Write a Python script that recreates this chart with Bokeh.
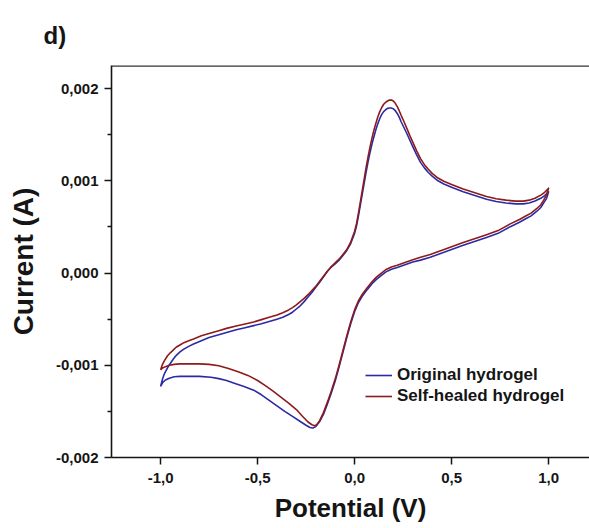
from bokeh.plotting import figure
from bokeh.models import (Range1d, FixedTicker, Legend, LegendItem, Span)
from bokeh.embed import file_html
from bokeh.resources import INLINE

# Cyclic voltammograms as (potential V, current mA) points,
# forward sweep -1.0 -> 1.0 V, then the reverse sweep back to -1.0 V.
original_cv = [
    (-1.000, -1.23), (-0.990, -1.15), (-0.980, -1.09), (-0.965, -1.03),
    (-0.950, -0.98), (-0.935, -0.935), (-0.920, -0.895), (-0.900, -0.855),
    (-0.880, -0.825), (-0.855, -0.795), (-0.830, -0.77), (-0.790, -0.735),
    (-0.750, -0.70), (-0.700, -0.67), (-0.660, -0.645), (-0.610, -0.615),
    (-0.570, -0.595), (-0.520, -0.57), (-0.480, -0.55), (-0.440, -0.525),
    (-0.400, -0.50), (-0.370, -0.48), (-0.340, -0.45), (-0.320, -0.425),
    (-0.300, -0.39), (-0.280, -0.355), (-0.260, -0.31), (-0.240, -0.26),
    (-0.220, -0.21), (-0.200, -0.155), (-0.180, -0.10), (-0.160, -0.04),
    (-0.140, 0.02), (-0.120, 0.065), (-0.100, 0.10), (-0.080, 0.14),
    (-0.060, 0.19), (-0.040, 0.245), (-0.020, 0.32), (0.000, 0.43),
    (0.010, 0.51), (0.020, 0.62), (0.030, 0.74), (0.040, 0.86),
    (0.050, 0.98), (0.060, 1.10), (0.070, 1.21), (0.080, 1.31),
    (0.090, 1.40), (0.100, 1.48), (0.110, 1.555), (0.120, 1.62),
    (0.130, 1.675), (0.140, 1.72), (0.150, 1.75), (0.160, 1.77),
    (0.170, 1.785), (0.180, 1.79), (0.190, 1.79), (0.200, 1.78),
    (0.210, 1.76), (0.220, 1.73), (0.230, 1.69), (0.240, 1.64),
    (0.255, 1.575), (0.270, 1.51), (0.285, 1.44), (0.300, 1.37),
    (0.320, 1.28), (0.340, 1.20), (0.360, 1.14), (0.380, 1.09),
    (0.400, 1.05), (0.430, 1.00), (0.460, 0.965), (0.500, 0.93),
    (0.560, 0.88), (0.620, 0.84), (0.680, 0.80), (0.730, 0.775),
    (0.780, 0.76), (0.830, 0.75), (0.870, 0.75), (0.900, 0.76),
    (0.930, 0.78), (0.960, 0.81), (0.980, 0.84), (1.000, 0.88),
    (0.990, 0.81), (0.975, 0.76), (0.960, 0.71), (0.940, 0.67),
    (0.910, 0.62), (0.880, 0.585), (0.850, 0.55), (0.800, 0.50),
    (0.740, 0.43), (0.680, 0.385), (0.630, 0.35), (0.560, 0.30),
    (0.500, 0.255), (0.440, 0.21), (0.390, 0.17), (0.340, 0.14),
    (0.300, 0.12), (0.260, 0.09), (0.220, 0.06), (0.190, 0.04),
    (0.160, 0.01), (0.130, -0.04), (0.110, -0.075), (0.090, -0.115),
    (0.065, -0.18), (0.040, -0.25), (0.020, -0.32), (0.000, -0.42),
    (-0.020, -0.55), (-0.040, -0.70), (-0.060, -0.86), (-0.080, -1.02),
    (-0.100, -1.17), (-0.120, -1.30), (-0.140, -1.42), (-0.160, -1.53),
    (-0.180, -1.61), (-0.200, -1.665), (-0.215, -1.68), (-0.230, -1.675),
    (-0.250, -1.65), (-0.280, -1.61), (-0.320, -1.555), (-0.360, -1.50),
    (-0.400, -1.44), (-0.440, -1.38), (-0.480, -1.32), (-0.520, -1.27),
    (-0.570, -1.23), (-0.620, -1.195), (-0.660, -1.165), (-0.700, -1.145),
    (-0.740, -1.13), (-0.800, -1.12), (-0.860, -1.12), (-0.900, -1.12),
    (-0.930, -1.125), (-0.955, -1.14), (-0.975, -1.16), (-0.990, -1.19),
    (-1.000, -1.23),
]

healed_cv = [
    (-1.000, -1.05), (-0.990, -0.99), (-0.980, -0.95), (-0.965, -0.90),
    (-0.950, -0.865), (-0.935, -0.835), (-0.920, -0.805), (-0.900, -0.78),
    (-0.880, -0.755), (-0.855, -0.735), (-0.830, -0.715), (-0.790, -0.68),
    (-0.750, -0.655), (-0.700, -0.625), (-0.660, -0.60), (-0.610, -0.575),
    (-0.570, -0.555), (-0.520, -0.53), (-0.480, -0.505), (-0.440, -0.48),
    (-0.400, -0.455), (-0.370, -0.43), (-0.340, -0.40), (-0.320, -0.375),
    (-0.300, -0.345), (-0.280, -0.31), (-0.260, -0.275), (-0.240, -0.235),
    (-0.220, -0.19), (-0.200, -0.145), (-0.180, -0.09), (-0.160, -0.035),
    (-0.140, 0.02), (-0.120, 0.07), (-0.100, 0.11), (-0.080, 0.15),
    (-0.060, 0.20), (-0.040, 0.255), (-0.020, 0.335), (0.000, 0.45),
    (0.010, 0.535), (0.020, 0.65), (0.030, 0.775), (0.040, 0.90),
    (0.050, 1.025), (0.060, 1.15), (0.070, 1.265), (0.080, 1.37),
    (0.090, 1.465), (0.100, 1.55), (0.110, 1.625), (0.120, 1.695),
    (0.130, 1.75), (0.140, 1.795), (0.150, 1.83), (0.160, 1.85),
    (0.170, 1.865), (0.180, 1.875), (0.190, 1.875), (0.200, 1.865),
    (0.210, 1.84), (0.220, 1.805), (0.230, 1.76), (0.240, 1.71),
    (0.255, 1.64), (0.270, 1.565), (0.285, 1.49), (0.300, 1.42),
    (0.320, 1.325), (0.340, 1.24), (0.360, 1.175), (0.380, 1.125),
    (0.400, 1.08), (0.430, 1.03), (0.460, 0.995), (0.500, 0.96),
    (0.560, 0.91), (0.620, 0.87), (0.680, 0.83), (0.730, 0.805),
    (0.780, 0.79), (0.830, 0.78), (0.870, 0.78), (0.900, 0.79),
    (0.930, 0.81), (0.960, 0.845), (0.980, 0.875), (1.000, 0.92),
    (0.990, 0.85), (0.975, 0.79), (0.960, 0.74), (0.940, 0.70),
    (0.910, 0.65), (0.880, 0.615), (0.850, 0.58), (0.800, 0.53),
    (0.740, 0.46), (0.680, 0.415), (0.630, 0.38), (0.560, 0.33),
    (0.500, 0.285), (0.440, 0.24), (0.390, 0.20), (0.340, 0.17),
    (0.300, 0.145), (0.260, 0.115), (0.220, 0.085), (0.190, 0.065),
    (0.160, 0.035), (0.130, -0.015), (0.110, -0.05), (0.090, -0.095),
    (0.065, -0.16), (0.040, -0.23), (0.020, -0.30), (0.000, -0.40),
    (-0.020, -0.53), (-0.040, -0.68), (-0.060, -0.84), (-0.080, -1.00),
    (-0.100, -1.15), (-0.120, -1.28), (-0.140, -1.40), (-0.160, -1.51),
    (-0.180, -1.60), (-0.195, -1.645), (-0.205, -1.655), (-0.220, -1.645),
    (-0.240, -1.615), (-0.270, -1.55), (-0.300, -1.48), (-0.340, -1.41),
    (-0.380, -1.345), (-0.420, -1.28), (-0.460, -1.22), (-0.500, -1.165),
    (-0.550, -1.11), (-0.600, -1.07), (-0.650, -1.035), (-0.700, -1.005),
    (-0.750, -0.99), (-0.800, -0.985), (-0.860, -0.985), (-0.900, -0.985),
    (-0.930, -0.99), (-0.955, -1.00), (-0.975, -1.015), (-0.990, -1.03),
    (-1.000, -1.05),
]

potential_original = [v for v, _ in original_cv]
current_original = [i * 1e-3 for _, i in original_cv]
potential_healed = [v for v, _ in healed_cv]
current_healed = [i * 1e-3 for _, i in healed_cv]

series_labels = ["Original hydrogel", "Self-healed hydrogel"]
panel_letter = "d)"

x_ticks = [-1.0, -0.5, 0.0, 0.5, 1.0]
x_tick_labels = ["-1,0", "-0,5", "0,0", "0,5", "1,0"]
y_ticks = [-0.002, -0.001, 0.0, 0.001, 0.002]
y_tick_labels = ["-0,002", "-0,001", "0,000", "0,001", "0,002"]
y_minor_ticks = [-0.0015, -0.0005, 0.0005, 0.0015]

FONT = "Liberation Sans"
BLUE = "#2b2ba3"
RED = "#8e1b1b"
INK = "#151515"

Y_TOP = 0.00225

p = figure(width=589, height=528, output_backend="svg", toolbar_location=None,
           x_range=Range1d(-1.253, 1.211), y_range=Range1d(-0.002, Y_TOP),
           min_border_left=111, min_border_right=0, min_border_top=65,
           min_border_bottom=71, title=panel_letter,
           x_axis_label="Potential (V)", y_axis_label="Current (A)")
p.grid.visible = False
p.outline_line_color = None
p.background_fill_color = "white"
p.border_fill_color = "white"

# panel letter in the top-left corner, outside the frame
p.title.align = "left"
p.title.offset = -68
p.title.standoff = 34
p.title.text_font = FONT
p.title.text_font_style = "bold"
p.title.text_font_size = "24px"
p.title.text_color = INK

r_orig = p.line(potential_original, current_original, line_color=BLUE,
                line_width=1.6, line_join="round")
r_heal = p.line(potential_healed, current_healed, line_color=RED,
                line_width=1.6, line_join="round")

for ax in (p.xaxis[0], p.yaxis[0]):
    ax.axis_line_color = INK
    ax.axis_line_width = 1.6
    ax.major_tick_line_color = INK
    ax.major_tick_line_width = 1.5
    ax.major_tick_in = 0
    ax.major_tick_out = 7
    ax.minor_tick_line_color = INK
    ax.minor_tick_line_width = 1.3
    ax.minor_tick_in = 0
    ax.minor_tick_out = 4
    ax.major_label_text_font = FONT
    ax.major_label_text_font_style = "bold"
    ax.major_label_text_font_size = "15px"
    ax.major_label_text_color = INK
    ax.axis_label_text_font = FONT
    ax.axis_label_text_font_style = "bold"
    ax.axis_label_text_color = INK

p.xaxis[0].ticker = FixedTicker(ticks=x_ticks)
p.xaxis[0].minor_tick_line_color = None
p.xaxis[0].major_label_overrides = dict(zip(x_ticks, x_tick_labels))
p.xaxis[0].major_label_standoff = 8
p.xaxis[0].axis_label_text_font_size = "26px"
p.xaxis[0].axis_label_standoff = 7

p.yaxis[0].ticker = FixedTicker(ticks=y_ticks, minor_ticks=y_minor_ticks)
p.yaxis[0].major_label_overrides = dict(zip(y_ticks, y_tick_labels))
p.yaxis[0].major_label_standoff = 6
p.yaxis[0].axis_label_standoff = 14
p.yaxis[0].axis_label_text_font_size = "28px"

# plain line closing the top of the frame
p.add_layout(Span(location=Y_TOP, dimension="width", line_color="#333333",
                  line_width=2.5))

legend = Legend(items=[LegendItem(label=series_labels[0], renderers=[r_orig]),
                       LegendItem(label=series_labels[1], renderers=[r_heal])],
                location=(254, 51), border_line_color=None,
                background_fill_alpha=0, label_text_font=FONT,
                label_text_font_style="bold", label_text_font_size="17px",
                label_text_color=INK, glyph_width=27, glyph_height=20,
                label_height=20, spacing=1, padding=0, margin=0,
                label_standoff=5)
p.add_layout(legend)

open("out.html", "w").write(file_html(p, INLINE))
